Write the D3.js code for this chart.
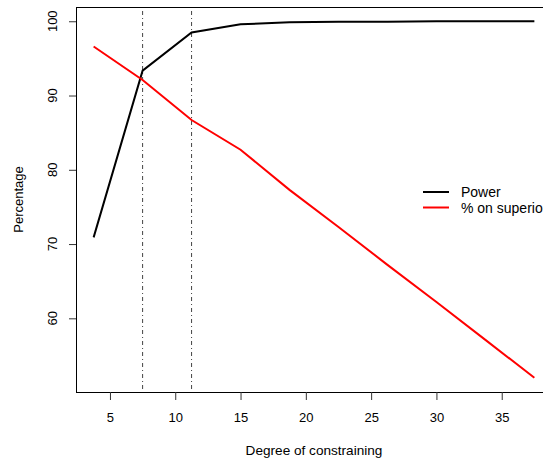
<!DOCTYPE html>
<html>
<head>
<meta charset="utf-8">
<script src="https://cdn.jsdelivr.net/npm/d3@7"></script>
<style>
    body { margin: 0; background: #fff; }
    text { font-family: "Liberation Sans", Arial, sans-serif; }
</style>
</head>
<body>
<script>
// degree of constraining (x) and the two series
var degree = [3.75, 7.5, 11.25, 15, 18.75, 22.5, 26.25, 30, 33.75, 37.5];
var power = [70.9, 93.35, 98.5, 99.6, 99.85, 99.95, 99.95, 100, 100, 100];
var superior = [96.6, 92.1, 86.7, 82.7, 77.3, 72.3, 67.2, 62.2, 57.1, 52.0];
var cutoffs = [7.5, 11.25];
var xTicks = [5, 10, 15, 20, 25, 30, 35];
var yTicks = [60, 70, 80, 90, 100];
var legendLabels = ["Power", "% on superior"];
var seriesColors = ["#000000", "#ff0000"];

var width = 543, height = 459;

// plot region (the right edge runs past the window like in the reference)
var plot = { left: 76, right: 552, top: 7, bottom: 392 };

var svg = d3.select("body").append("svg")
    .attr("width", width)
    .attr("height", height);

// R style 4% padding on both axes
function padded(lo, hi) {
    var p = (hi - lo) * 0.04;
    return [lo - p, hi + p];
}

var allY = power.concat(superior);
var xScale = d3.scaleLinear()
    .domain(padded(d3.min(degree), d3.max(degree)))
    .range([plot.left, plot.right]);
var yScale = d3.scaleLinear()
    .domain(padded(d3.min(allY), d3.max(allY)))
    .range([plot.bottom, plot.top]);

// vertical dot-dash lines
svg.selectAll("line.cut")
    .data(cutoffs)
    .enter()
    .append("line")
    .attr("class", "cut")
    .attr("x1", function(d) { return xScale(d); })
    .attr("x2", function(d) { return xScale(d); })
    .attr("y1", plot.top)
    .attr("y2", plot.bottom)
    .attr("stroke", "#444")
    .attr("stroke-width", 1)
    .attr("stroke-dasharray", "1,3,4,3");

// the two series
var line = d3.line()
    .x(function(d) { return xScale(d[0]); })
    .y(function(d) { return yScale(d[1]); });

[power, superior].forEach(function(s, i) {
    svg.append("path")
        .datum(d3.zip(degree, s))
        .attr("fill", "none")
        .attr("stroke", seriesColors[i])
        .attr("stroke-width", 2)
        .attr("d", line);
});

// box
svg.append("rect")
    .attr("x", plot.left + 0.5)
    .attr("y", plot.top + 0.5)
    .attr("width", plot.right - plot.left)
    .attr("height", plot.bottom - plot.top)
    .attr("fill", "none")
    .attr("stroke", "#000")
    .attr("stroke-width", 1);

// x axis
var xAxis = svg.append("g")
    .attr("transform", "translate(0," + plot.bottom + ")")
    .call(d3.axisBottom(xScale).tickValues(xTicks).tickSize(8).tickPadding(0).tickFormat(d3.format("d")));
xAxis.select(".domain").remove();
xAxis.selectAll("line").attr("stroke", "#333");
xAxis.selectAll("text")
    .attr("y", 30)
    .attr("dy", 0)
    .attr("fill", "#000")
    .style("font-size", "13px")
    .style("font-family", "Liberation Sans, Arial, sans-serif");

// y axis, labels parallel to the axis
var yAxis = svg.append("g")
    .attr("transform", "translate(" + plot.left + ",0)")
    .call(d3.axisLeft(yScale).tickValues(yTicks).tickSize(7).tickFormat(d3.format("d")));
yAxis.select(".domain").remove();
yAxis.selectAll("line").attr("stroke", "#333");
yAxis.selectAll("text").remove();

svg.selectAll("text.ylab")
    .data(yTicks)
    .enter()
    .append("text")
    .attr("class", "ylab")
    .attr("transform", function(d) { return "translate(57," + yScale(d) + ") rotate(-90)"; })
    .attr("text-anchor", "middle")
    .style("font-size", "13px")
    .text(function(d) { return d; });

// axis titles
svg.append("text")
    .attr("x", (plot.left + plot.right) / 2)
    .attr("y", 455)
    .attr("text-anchor", "middle")
    .style("font-size", "13.6px")
    .text("Degree of constraining");

svg.append("text")
    .attr("transform", "translate(22.5," + ((plot.top + plot.bottom) / 2) + ") rotate(-90)")
    .attr("text-anchor", "middle")
    .style("font-size", "13px")
    .text("Percentage");

// legend, no box
var legend = svg.append("g");
legendLabels.forEach(function(lab, i) {
    var ly = 192 + i * 15.5;
    legend.append("line")
        .attr("x1", 423)
        .attr("x2", 449)
        .attr("y1", ly)
        .attr("y2", ly)
        .attr("stroke", seriesColors[i])
        .attr("stroke-width", 2);
    legend.append("text")
        .attr("x", 461)
        .attr("y", ly + 5)
        .style("font-size", "14px")
        .text(lab);
});
</script>
</body>
</html>
